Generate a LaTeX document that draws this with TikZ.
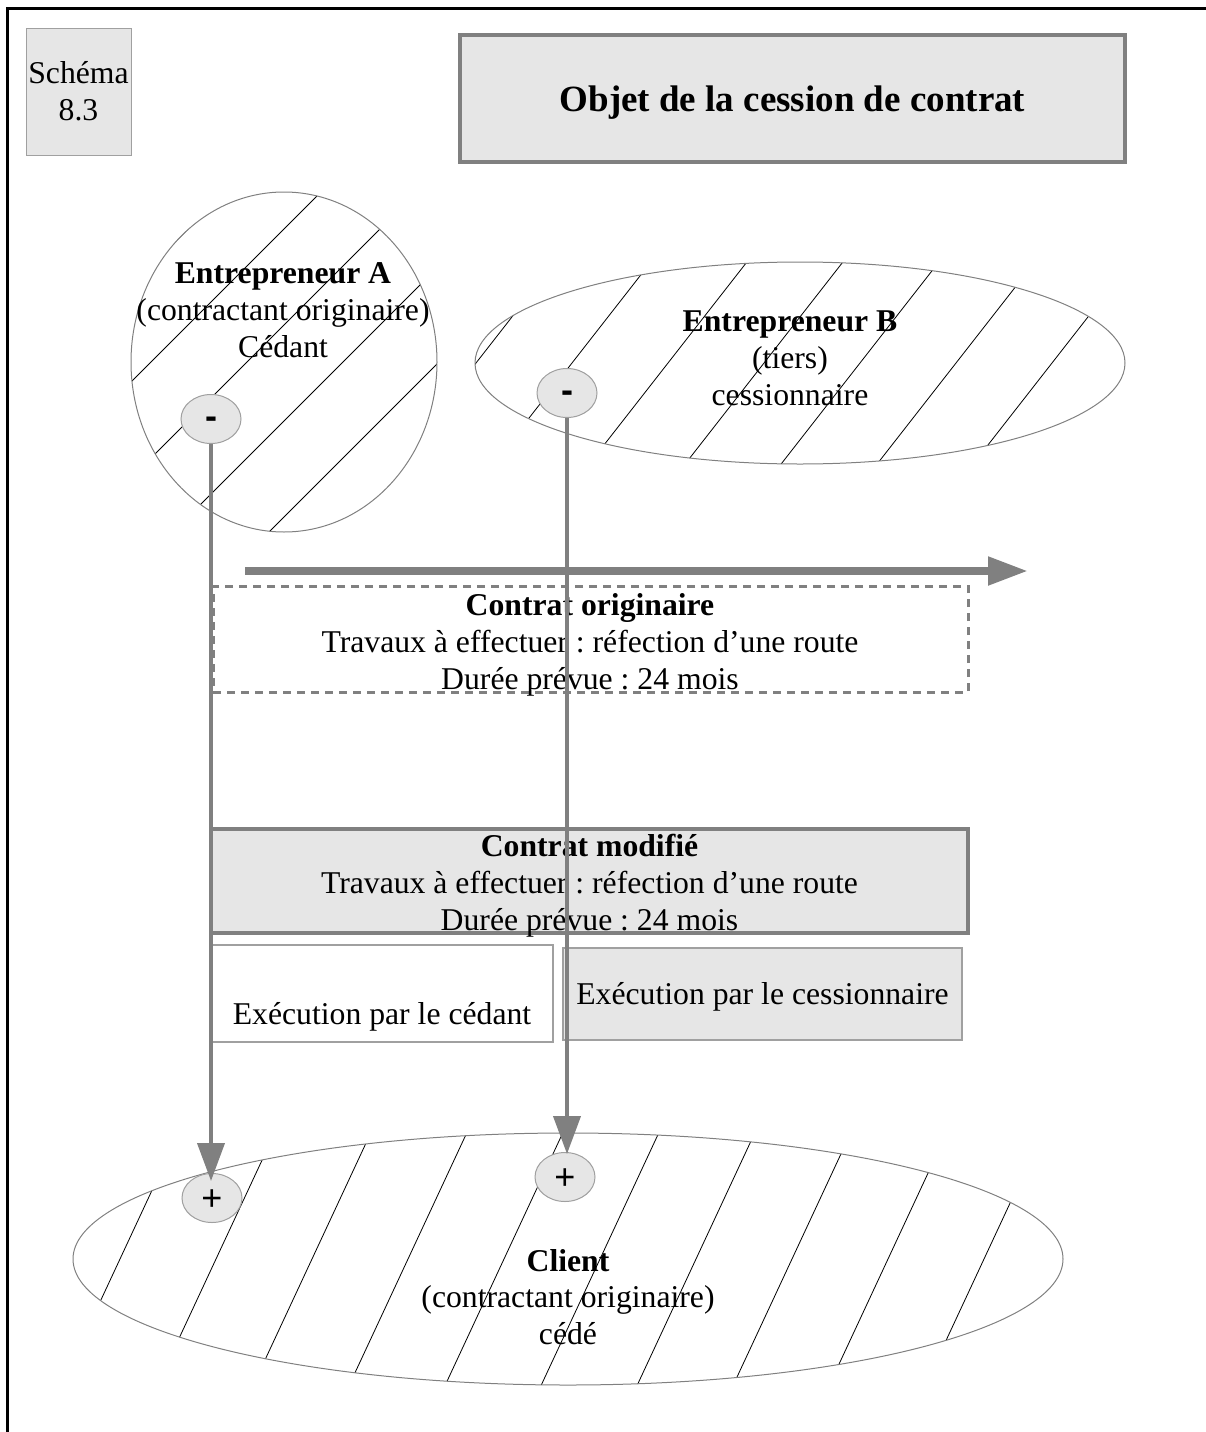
\documentclass[tikz,border=0pt]{standalone}
\usepackage{fontspec}
\setmainfont{Liberation Serif}
\newfontfamily\signfont{Liberation Sans}
\usetikzlibrary{shapes.geometric,arrows.meta}
\frenchspacing

\definecolor{boxgray}{HTML}{E6E6E6}
\definecolor{edgegray}{HTML}{808080}
\definecolor{softgray}{HTML}{A0A0A0}

\newcommand\bodysize{\fontsize{31.7}{36.8}\selectfont}
\newcommand\titlesize{\fontsize{37}{44}\selectfont}

\tikzset{
  frameline/.style={black, line width=3pt},
  tagbox/.style={rectangle, draw=softgray, line width=1pt, fill=boxgray,
    inner sep=0pt, align=center, font=\bodysize},
  titlebox/.style={rectangle, draw=edgegray, line width=4pt, fill=boxgray,
    inner sep=0pt},
  titletext/.style={inner sep=0pt, font=\titlesize\bfseries},
  party/.style={ellipse, draw=edgegray, line width=1pt, inner sep=0pt},
  partytext/.style={align=center, font=\bodysize, inner sep=0pt},
  hatch/.style={black, line width=0.8pt},
  sign/.style={ellipse, draw=softgray, line width=1pt, fill=boxgray,
    inner sep=0pt, minimum width=60pt, minimum height=49pt},
  signtext/.style={inner sep=0pt, font=\signfont\fontsize{36}{36}\selectfont},
  oldcontract/.style={rectangle, draw=edgegray, line width=3pt,
    dash pattern=on 8pt off 6pt, inner sep=0pt},
  newcontract/.style={rectangle, draw=edgegray, line width=4pt, fill=boxgray,
    inner sep=0pt},
  execbox/.style={rectangle, draw=softgray, line width=1.5pt, inner sep=0pt},
  link/.style={edgegray, line width=4pt,
    -{Triangle[length=38pt, width=27pt]}},
  timeline/.style={edgegray, line width=8pt,
    -{Triangle[length=40pt, width=27pt]}}
}

\begin{document}
\begin{tikzpicture}[x=1pt, y=-1pt]
\useasboundingbox (0,0) rectangle (1206,1432);

% page frame (open towards the right and bottom)
\draw[frameline] (7,1432) -- (7,8) -- (1206,8);

% heading
\node[tagbox, minimum width=105pt, minimum height=127pt] (tag) at (78.5,91.5)
  {Schéma\\8.3};
\node[titlebox, minimum width=665pt, minimum height=127pt] (title) at (792.5,98.5) {};
\node[titletext] (titlelabel) at (792.5,103) {Objet de la cession de contrat};

% Entrepreneur A
\begin{scope}
  \clip (284,362) ellipse [x radius=153pt, y radius=170pt];
  \foreach \c in {321,417,...,1000}
    \draw[hatch] ({\c-150},150) -- ({\c-600},600);
\end{scope}
\node[party, minimum width=306pt, minimum height=340pt] (entA) at (284,362) {};
\node[partytext] (entAtext) at (283,310)
  {\textbf{Entrepreneur A}\\(contractant originaire)\\Cédant};

% Entrepreneur B
\begin{scope}
  \clip (800,363) ellipse [x radius=325pt, y radius=101pt];
  \foreach \x in {380,476,...,1250}
    \draw[hatch] ({\x+0.781*113},250) -- ({\x-0.781*117},480);
\end{scope}
\node[party, minimum width=650pt, minimum height=202pt] (entB) at (800,363) {};
\node[partytext] (entBtext) at (790,358)
  {\textbf{Entrepreneur B}\\(tiers)\\cessionnaire};

% Client
\begin{scope}
  \clip (568,1259) ellipse [x radius=495pt, y radius=126pt];
  \foreach \x in {24,120,...,1200}
    \draw[hatch] ({\x+0.466*139},1120) -- ({\x-0.466*141},1400);
\end{scope}
\node[party, minimum width=990pt, minimum height=252pt] (client) at (568,1259) {};
\node[partytext] (clienttext) at (568,1297)
  {\textbf{Client}\\(contractant originaire)\\cédé};

% contracts
\node[oldcontract, minimum width=755pt, minimum height=106pt] (orig) at (590.5,639) {};
\node[partytext] (origtext) at (590,645)
  {\textbf{Contrat originaire}\\Travaux à effectuer : réfection d’une route\\Durée prévue : 24 mois};
\node[newcontract, minimum width=757pt, minimum height=104pt] (modif) at (589.5,881) {};
\node[partytext] (modiftext) at (589.5,886)
  {\textbf{Contrat modifié}\\Travaux à effectuer : réfection d’une route\\Durée prévue : 24 mois};

% execution
\node[execbox, fill=white, minimum width=342pt, minimum height=97pt] (execA) at (382,993.5) {};
\node[partytext] (execAtext) at (382,1017) {Exécution par le cédant};
\node[execbox, fill=boxgray, minimum width=399pt, minimum height=92pt] (execB) at (762.5,994) {};
\node[partytext] (execBtext) at (762.5,997) {Exécution par le cessionnaire};

% time axis
\coordinate (tstart) at (245,571);
\coordinate (tend) at (1028,571);
\draw[timeline] (tstart) -- (tend);

% debit / credit markers
\node[sign] (minusA) at (211,419) {};
\node[signtext] at (211,423) {\textbf{-}};
\node[sign] (minusB) at (567,393) {};
\node[signtext] at (567,397) {\textbf{-}};
\node[sign] (plusA) at (212,1198) {};
\node[signtext] at (212,1200) {+};
\node[sign] (plusB) at (565,1177) {};
\node[signtext] at (565,1179) {+};

\draw[link, shorten >=-8pt] (minusA.south) -- (minusA.south |- plusA.north);
\draw[link, shorten >=-2pt] (minusB.south) -- (minusB.south |- plusB.north);
\end{tikzpicture}
\end{document}
